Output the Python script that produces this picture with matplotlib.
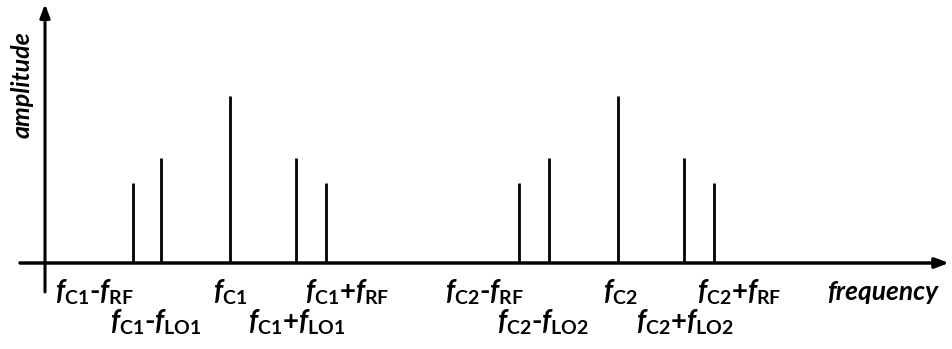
import matplotlib
matplotlib.use("Agg")
import matplotlib.pyplot as plt

# spectral lines: position along frequency axis and their amplitude
freqs = [88, 116, 185, 251, 281, 474, 504, 573, 639, 669]
amps = [80, 105, 167, 105, 80, 80, 105, 167, 105, 80]

# labels under the axis: (text, left x, row)
labels = [
    (r"$f_{\mathrm{C1}}$-$f_{\mathrm{RF}}$", 10, 0),
    (r"$f_{\mathrm{C1}}$", 168, 0),
    (r"$f_{\mathrm{C1}}$+$f_{\mathrm{RF}}$", 260, 0),
    (r"$f_{\mathrm{C2}}$-$f_{\mathrm{RF}}$", 400, 0),
    (r"$f_{\mathrm{C2}}$", 558, 0),
    (r"$f_{\mathrm{C2}}$+$f_{\mathrm{RF}}$", 652, 0),
    (r"$f_{\mathrm{C1}}$-$f_{\mathrm{LO1}}$", 65, 1),
    (r"$f_{\mathrm{C1}}$+$f_{\mathrm{LO1}}$", 203, 1),
    (r"$f_{\mathrm{C2}}$-$f_{\mathrm{LO2}}$", 452, 1),
    (r"$f_{\mathrm{C2}}$+$f_{\mathrm{LO2}}$", 591, 1),
]
row_y = [-29, -59]

plt.rcParams["font.family"] = "Lato"
plt.rcParams["font.weight"] = "bold"
plt.rcParams["mathtext.fontset"] = "custom"
plt.rcParams["mathtext.rm"] = "Lato:bold"
plt.rcParams["mathtext.it"] = "Lato:italic:bold"

fig = plt.figure(figsize=(9.52, 3.49), dpi=100)
ax = fig.add_axes([0, 0, 1, 1])
ax.set_xlim(-45, 907)
ax.set_ylim(-86, 263)
ax.axis("off")

# axes with arrows
ax.annotate("", xy=(904, 0), xytext=(-25, 0),
            arrowprops=dict(arrowstyle="-|>,head_length=0.8,head_width=0.3",
                            lw=2.5, color="black", shrinkA=0, shrinkB=0))
ax.annotate("", xy=(0, 259), xytext=(0, -29),
            arrowprops=dict(arrowstyle="-|>,head_length=0.8,head_width=0.3",
                            lw=2.2, color="black", shrinkA=0, shrinkB=0))

ax.vlines(freqs, 0, amps, colors="black", lw=2)

for txt, x, row in labels:
    ax.text(x, row_y[row], txt, fontsize=20, ha="left", va="center")

ax.text(782, -29, "frequency", fontsize=19, style="italic", ha="left", va="center")
ax.text(-23, 178, "amplitude", fontsize=18, style="italic", rotation=90,
        ha="center", va="center")

fig.savefig("out.png", dpi=100)
